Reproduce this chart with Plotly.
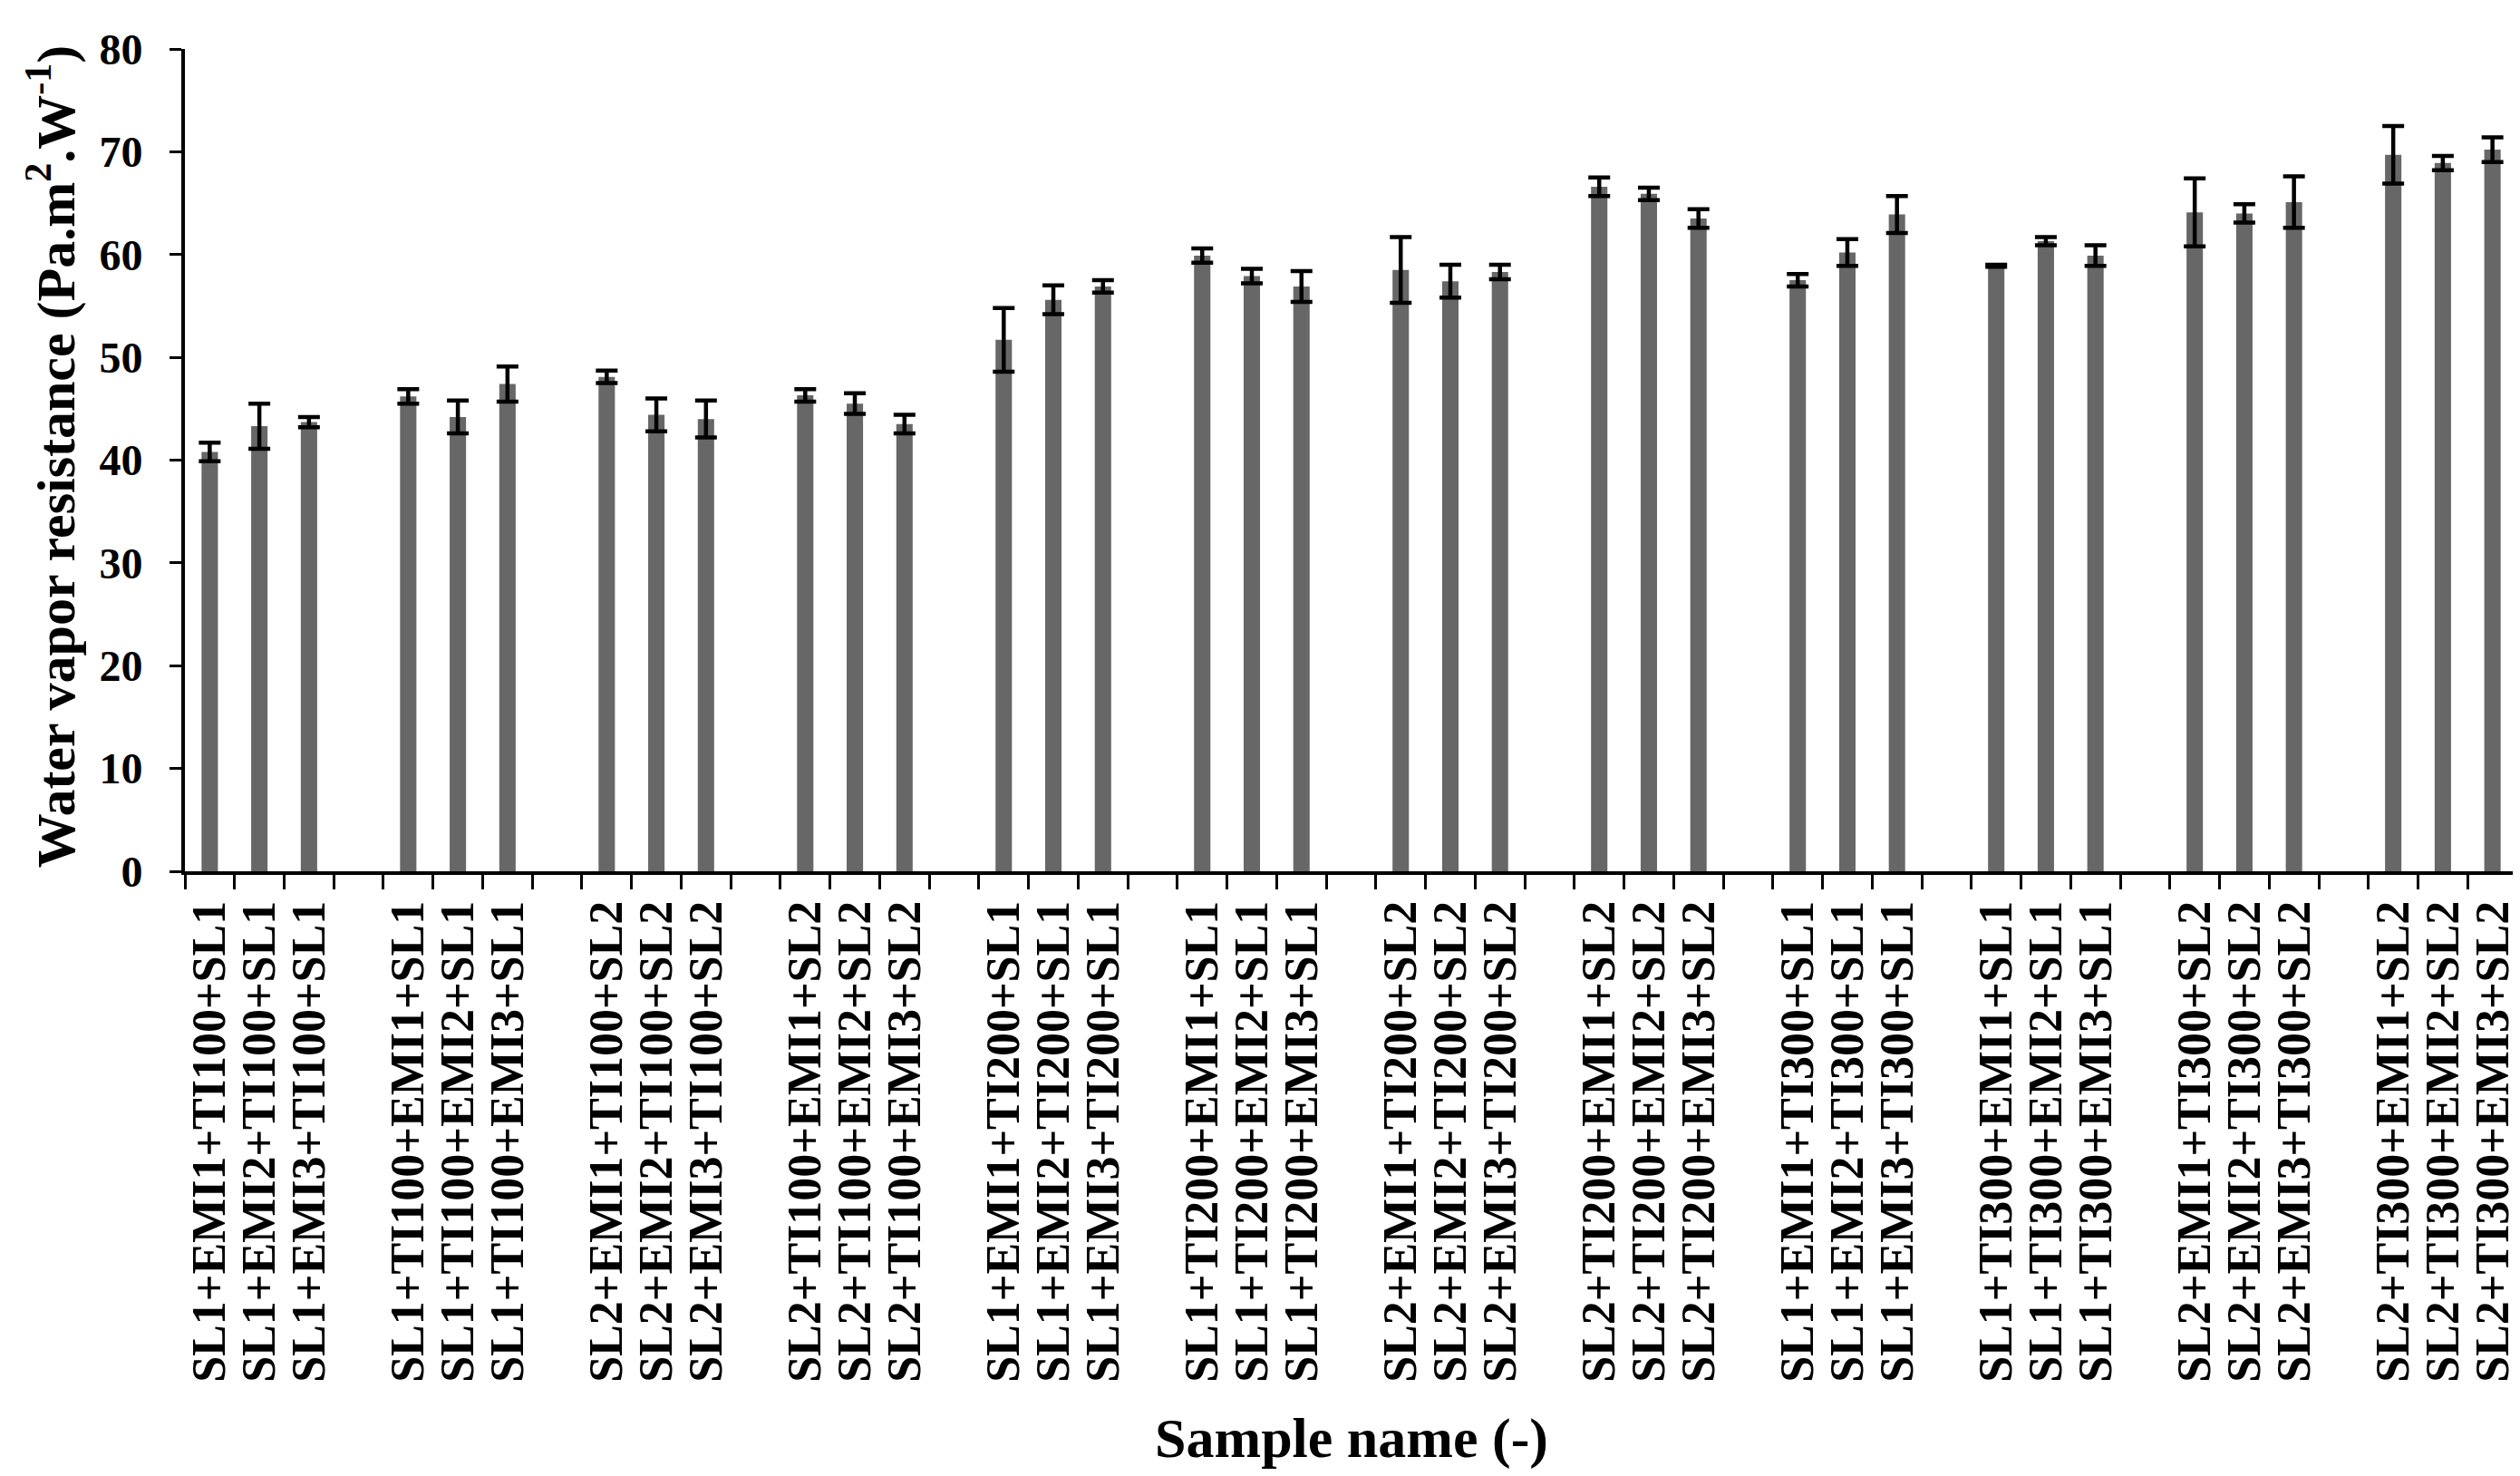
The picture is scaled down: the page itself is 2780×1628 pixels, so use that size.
import plotly.graph_objects as go

# ---- data ----
sample_labels = [
    "SL1+EMI1+TI100+SL1", "SL1+EMI2+TI100+SL1", "SL1+EMI3+TI100+SL1",
    "SL1+TI100+EMI1+SL1", "SL1+TI100+EMI2+SL1", "SL1+TI100+EMI3+SL1",
    "SL2+EMI1+TI100+SL2", "SL2+EMI2+TI100+SL2", "SL2+EMI3+TI100+SL2",
    "SL2+TI100+EMI1+SL2", "SL2+TI100+EMI2+SL2", "SL2+TI100+EMI3+SL2",
    "SL1+EMI1+TI200+SL1", "SL1+EMI2+TI200+SL1", "SL1+EMI3+TI200+SL1",
    "SL1+TI200+EMI1+SL1", "SL1+TI200+EMI2+SL1", "SL1+TI200+EMI3+SL1",
    "SL2+EMI1+TI200+SL2", "SL2+EMI2+TI200+SL2", "SL2+EMI3+TI200+SL2",
    "SL2+TI200+EMI1+SL2", "SL2+TI200+EMI2+SL2", "SL2+TI200+EMI3+SL2",
    "SL1+EMI1+TI300+SL1", "SL1+EMI2+TI300+SL1", "SL1+EMI3+TI300+SL1",
    "SL1+TI300+EMI1+SL1", "SL1+TI300+EMI2+SL1", "SL1+TI300+EMI3+SL1",
    "SL2+EMI1+TI300+SL2", "SL2+EMI2+TI300+SL2", "SL2+EMI3+TI300+SL2",
    "SL2+TI300+EMI1+SL2", "SL2+TI300+EMI2+SL2", "SL2+TI300+EMI3+SL2",
]
resistance = [
    40.8, 43.3, 43.7,
    46.2, 44.2, 47.4,
    48.1, 44.4, 44.0,
    46.3, 45.5, 43.5,
    51.7, 55.6, 56.9,
    59.9, 57.9, 56.9,
    58.5, 57.4, 58.3,
    66.6, 65.9, 63.5,
    57.5, 60.2, 63.9,
    58.9, 61.3, 59.9,
    64.1, 64.0, 65.1,
    69.7, 68.9, 70.2,
]
errors = [
    0.9, 2.2, 0.5,
    0.7, 1.6, 1.7,
    0.6, 1.6, 1.8,
    0.6, 1.0, 0.9,
    3.1, 1.4, 0.6,
    0.7, 0.7, 1.5,
    3.2, 1.6, 0.7,
    0.9, 0.6, 0.9,
    0.6, 1.3, 1.8,
    0.1, 0.4, 1.0,
    3.3, 0.9, 2.5,
    2.8, 0.7, 1.2,
]
group_size = 3
y_ticks = [0, 10, 20, 30, 40, 50, 60, 70, 80]

# ---- build categorical axis with empty spacer slots between groups ----
cats, vals, errs = [], [], []
n_groups = len(sample_labels) // group_size
for g in range(n_groups):
    for k in range(group_size):
        i = g * group_size + k
        cats.append(sample_labels[i])
        vals.append(resistance[i])
        errs.append(errors[i])
    if g < n_groups - 1:
        cats.append(" " * (g + 1))
        vals.append(None)
        errs.append(None)

FONT = "Liberation Serif"

fig = go.Figure(
    go.Bar(
        x=cats,
        y=vals,
        marker=dict(color="#676767", line=dict(width=0)),
        width=0.33,
        error_y=dict(type="data", array=errs, visible=True,
                     color="black", thickness=4.5, width=12),
    )
)

fig.update_layout(
    width=2780, height=1628,
    paper_bgcolor="white", plot_bgcolor="white",
    margin=dict(l=196, r=11, t=46, b=675),
    showlegend=False,
    font=dict(family=FONT, color="black"),
    annotations=[
        dict(text="Water vapor resistance (Pa.m<sup>2</sup>.W<sup>-1</sup>)",
             xref="paper", yref="paper", x=-0.057, y=0.505,
             xanchor="center", yanchor="middle", textangle=-90, showarrow=False,
             font=dict(family=FONT, size=60, color="black", weight="bold")),
        dict(text="Sample name (-)",
             xref="paper", yref="paper", x=0.5, y=-0.69,
             xanchor="center", yanchor="middle", showarrow=False,
             font=dict(family=FONT, size=62, color="black", weight="bold")),
    ],
)

fig.update_xaxes(
    type="category", categoryorder="array", categoryarray=cats,
    tickmode="linear", tick0=0, dtick=1,
    tickson="boundaries", ticks="outside", ticklen=16, tickwidth=3, tickcolor="black",
    showline=True, linecolor="black", linewidth=4,
    showgrid=False, zeroline=False,
    tickangle=-90,
    tickfont=dict(family=FONT, size=52, color="black", weight="bold"),
    ticklabelstandoff=8,
)
fig.update_yaxes(
    range=[0, 80], tickvals=y_ticks, ticktext=[str(v) for v in y_ticks],
    ticks="outside", ticklen=13, tickwidth=3, tickcolor="black",
    showline=True, linecolor="black", linewidth=4,
    showgrid=False, zeroline=False,
    tickfont=dict(family=FONT, size=48, color="black", weight="bold"),
    ticklabelstandoff=20,
)

fig.write_html("out.html")
